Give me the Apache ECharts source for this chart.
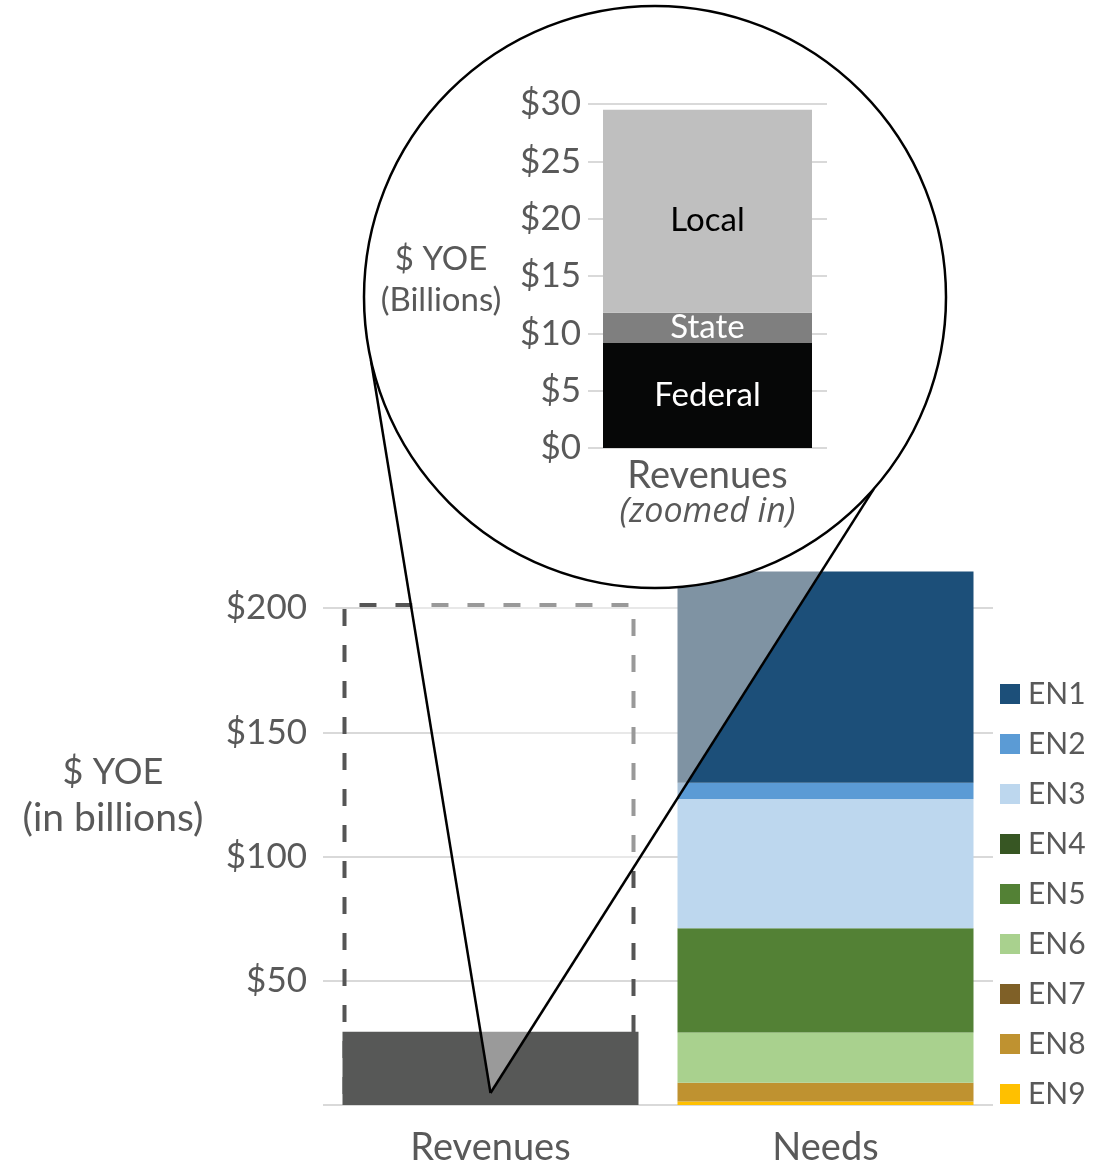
<!DOCTYPE html>
<html>
<head>
<meta charset="utf-8">
<script src="https://cdn.jsdelivr.net/npm/echarts@6/dist/echarts.min.js"></script>
<style>
  html, body { margin: 0; padding: 0; background: #ffffff; }
  #chart { width: 1102px; height: 1162px; }
</style>
</head>
<body>
<div id="chart"></div>
<script>
// ---- data ----
const categories = ['Revenues', 'Needs'];
const zoomCategory = ['Revenues'];

const revenueSources = ['Federal', 'State', 'Local'];
const revenueValues = [9.2, 2.6, 17.7];          // $ billions YOE
const revenueColors = ['#060707', '#7f7f7f', '#bfbfbf'];
const revenueLabelColors = ['#ffffff', '#ffffff', '#000000'];

const needNames = ['EN1', 'EN2', 'EN3', 'EN4', 'EN5', 'EN6', 'EN7', 'EN8', 'EN9'];
const needValues = [85.0, 6.6, 52.0, 0, 41.9, 20.2, 0, 7.6, 1.4];
const needColors = ['#1c4f79', '#5b9bd5', '#bdd7ee', '#375623', '#538135',
                    '#a9d18e', '#7f6027', '#bf9230', '#ffc000'];

// dashed frame drawn around the revenue column on the main scale
const revenueFrameTop = [202];

// axis ticks
const mainTicks = [0, 50, 100, 150, 200];
const zoomTicks = [0, 5, 10, 15, 20, 25, 30];

// ---- styling ----
const FONT = 'Lato, "Open Sans", "Noto Sans", sans-serif';
const TEXT = '#595959';
const GRID_LINE = '#d9d9d9';
const BAR_W = 296;

const revenueTotal = revenueValues.reduce((a, b) => a + b, 0);

const chart = echarts.init(document.getElementById('chart'), null, { renderer: 'canvas' });

const series = [];

// dashed frame (underneath the revenue column)
series.push({
  name: 'Frame',
  type: 'bar',
  xAxisIndex: 0, yAxisIndex: 0,
  data: [revenueFrameTop[0], null],
  barWidth: BAR_W - 3,
  barGap: '-100%',
  clip: false,
  silent: true,
  z: 1,
  itemStyle: {
    color: 'rgba(0,0,0,0)',
    borderColor: '#555555',
    borderWidth: 4,
    borderType: [17, 19]
  }
});

// revenue column on the main scale: the sum of all sources in one dark tone
series.push({
  name: 'Revenues total',
  type: 'bar',
  xAxisIndex: 0, yAxisIndex: 0,
  data: [revenueTotal, null],
  barWidth: BAR_W,
  barGap: '-100%',
  clip: false,
  silent: true,
  z: 2,
  itemStyle: { color: '#575857' }
});

// needs column, EN9 at the bottom up to EN1 at the top
for (let i = needNames.length - 1; i >= 0; i--) {
  series.push({
    name: needNames[i],
    type: 'bar',
    stack: 'needs',
    xAxisIndex: 0, yAxisIndex: 0,
    data: [null, needValues[i]],
    barWidth: BAR_W,
    barGap: '-100%',
    clip: false,
    z: 2,
    itemStyle: { color: needColors[i] }
  });
}

// zoomed-in revenue column
revenueSources.forEach((name, i) => {
  series.push({
    name: name,
    type: 'bar',
    stack: 'zoom',
    xAxisIndex: 1, yAxisIndex: 1,
    data: [revenueValues[i]],
    barWidth: 209,
    z: 12,
    itemStyle: { color: revenueColors[i] },
    label: {
      show: true,
      position: 'inside',
      offset: name === 'Local' ? [0, 9] : [0, 0],
      formatter: name,
      color: revenueLabelColors[i],
      fontFamily: FONT,
      fontSize: 33
    }
  });
});

const option = {
  backgroundColor: '#ffffff',
  animation: false,
  textStyle: { fontFamily: FONT },
  grid: [
    { left: 323, right: 109, top: 608, bottom: 57, outerBoundsMode: 'none', containLabel: false },
    { left: 588, right: 275, top: 104, bottom: 714, outerBoundsMode: 'none', containLabel: false }
  ],
  legend: {
    data: needNames,
    orient: 'vertical',
    left: 1000,
    top: 679,
    padding: 0,
    icon: 'rect',
    itemWidth: 20,
    itemHeight: 20,
    itemGap: 20,
    selectedMode: false,
    textStyle: { color: TEXT, fontSize: 30, lineHeight: 30, fontFamily: FONT, padding: [0, 0, 0, 3] }
  },
  xAxis: [
    {
      type: 'category', gridIndex: 0, data: categories,
      axisLine: { show: false }, axisTick: { show: false },
      axisLabel: { color: TEXT, fontSize: 38, lineHeight: 38, margin: 24, fontFamily: FONT }
    },
    {
      type: 'category', gridIndex: 1, data: zoomCategory, z: 10,
      axisLine: { show: false }, axisTick: { show: false },
      axisLabel: {
        margin: 10,
        formatter: '{a|{value}}\n{b|(zoomed in)}',
        rich: {
          a: { color: TEXT, fontSize: 38, lineHeight: 36, fontFamily: FONT },
          b: { color: TEXT, fontSize: 34, lineHeight: 37, fontStyle: 'italic', fontFamily: '"Open Sans", Lato, sans-serif' }
        }
      }
    }
  ],
  yAxis: [
    {
      type: 'value', gridIndex: 0,
      min: mainTicks[0], max: mainTicks[mainTicks.length - 1],
      interval: mainTicks[1] - mainTicks[0],
      axisLine: { show: false }, axisTick: { show: false },
      splitLine: { lineStyle: { color: GRID_LINE, width: 2 } },
      axisLabel: {
        color: TEXT, fontSize: 35, margin: 16, fontFamily: FONT,
        formatter: v => (v === 0 ? '' : '$' + v)
      }
    },
    {
      type: 'value', gridIndex: 1, z: 10,
      min: zoomTicks[0], max: zoomTicks[zoomTicks.length - 1],
      interval: zoomTicks[1] - zoomTicks[0],
      axisLine: { show: false }, axisTick: { show: false },
      splitLine: { lineStyle: { color: GRID_LINE, width: 2 } },
      axisLabel: { color: TEXT, fontSize: 35, margin: 7, fontFamily: FONT, formatter: v => '$' + v }
    }
  ],
  series: series
};

chart.setOption(option);

// ---- magnifier callout: circle, cone and leader lines ----
const circle = { cx: 655, cy: 297, r: 291 };
const leftAngle = Math.atan2(63, -284);
const rightAngle = Math.atan2(192, 219);
const onCircle = a => [circle.cx + circle.r * Math.cos(a), circle.cy + circle.r * Math.sin(a)];

const apexX = chart.convertToPixel({ xAxisIndex: 0 }, categories[0]);
const apexY = chart.convertToPixel({ yAxisIndex: 0 }, 0) - 12;
const apex = [apexX, apexY];
const pL = onCircle(leftAngle);
const pR = onCircle(rightAngle);

chart.setOption({
  graphic: [
    {
      // partly desaturate what lies under the magnifier cone
      type: 'polygon', z: 3, silent: true,
      shape: { points: [apex, pL, pR] },
      style: { fill: 'rgba(128,128,128,0.35)', blend: 'saturation' }
    },
    {
      // then wash it out towards white
      type: 'polygon', z: 3, silent: true,
      shape: { points: [apex, pL, pR] },
      style: { fill: 'rgba(255,255,255,0.4)' }
    },
    {
      type: 'line', z: 4, silent: true,
      shape: { x1: apex[0], y1: apex[1], x2: pL[0], y2: pL[1] },
      style: { stroke: '#000', lineWidth: 2.5 }
    },
    {
      type: 'line', z: 4, silent: true,
      shape: { x1: apex[0], y1: apex[1], x2: pR[0], y2: pR[1] },
      style: { stroke: '#000', lineWidth: 2.5 }
    },
    {
      type: 'circle', z: 5, silent: true,
      shape: { cx: circle.cx, cy: circle.cy, r: circle.r },
      style: { fill: '#ffffff', stroke: '#000', lineWidth: 2.5 }
    },
    {
      type: 'text', z: 11, silent: true,
      x: 441, y: 280,
      style: {
        text: '$ YOE\n(Billions)', fill: TEXT, fontSize: 33, fontFamily: FONT,
        lineHeight: 41, align: 'center', verticalAlign: 'middle'
      }
    },
    {
      type: 'text', z: 11, silent: true,
      x: 113, y: 772,
      style: {
        text: '$ YOE', fill: TEXT, fontSize: 36, fontFamily: FONT,
        align: 'center', verticalAlign: 'middle'
      }
    },
    {
      type: 'text', z: 11, silent: true,
      x: 113, y: 818,
      style: {
        text: '(in billions)', fill: TEXT, fontSize: 39, fontFamily: FONT,
        align: 'center', verticalAlign: 'middle'
      }
    }
  ]
});
</script>
</body>
</html>
